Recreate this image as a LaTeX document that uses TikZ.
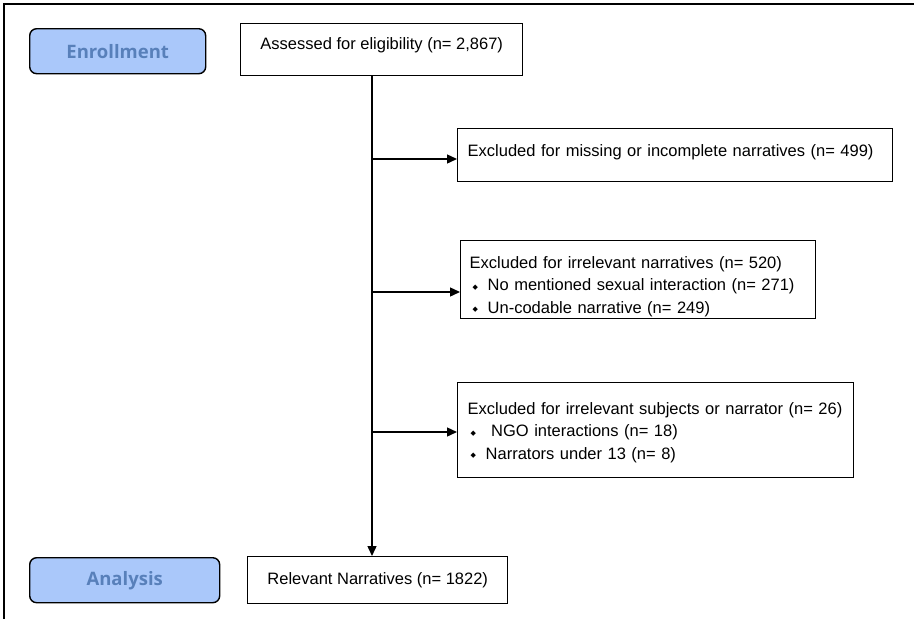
\documentclass[tikz,border=0pt]{standalone}
\usepackage{fontspec}
\setmainfont{Liberation Sans}
\newfontfamily\headfont{Open Sans}
\newfontfamily\symfont{DejaVu Sans}
\usetikzlibrary{arrows.meta}

\definecolor{phasefill}{RGB}{170,200,250}
\definecolor{phasetext}{RGB}{88,128,186}

% small diamond bullet for the sub-items
\newcommand{\dmd}{{\symfont\fontsize{7pt}{7pt}\selectfont ◆}}
\newcommand{\itm}{\makebox[18pt][l]{\hspace{3pt}\raisebox{1.5pt}{\dmd}}}

\begin{document}
\begin{tikzpicture}[x=1pt,y=-1pt,
    phase/.style={draw, line width=1.4pt, rounded corners=7pt, fill=phasefill,
        text=phasetext, font=\headfont\bfseries\fontsize{18.5}{22}\selectfont,
        anchor=north west, inner sep=0pt},
    flowbox/.style={draw, line width=1.4pt, anchor=north west, inner sep=0pt,
        font=\fontsize{16.5}{22.5}\selectfont},
    link/.style={line width=1.4pt, -{Triangle[length=10pt,width=9pt]}}]

    \useasboundingbox (0,0) rectangle (914,619);
    % page frame
    \draw[line width=1.5pt] (4,619) -- (4,4) -- (914,4);

    % Phase labels on the left
    \node[phase, minimum width=176pt, minimum height=45pt] (enroll) at (29,28) {Enrollment};
    \node[phase, minimum width=190pt, minimum height=45pt] (analysis) at (29,557) {Analysis};

    % Flow boxes
    \node[flowbox, minimum width=282pt, minimum height=52pt, text depth=12pt] (assess) at (240,23)
        {Assessed for eligibility (n= 2,867)};
    \node[flowbox, minimum width=435pt, minimum height=53pt, text width=415pt, align=left,
        text depth=9pt] (excl1) at (457,128)
        {Excluded for missing or incomplete narratives (n= 499)};
    \node[flowbox, minimum width=355pt, minimum height=78pt, text width=337pt, align=left] (excl2) at (460,240)
        {\rule{0pt}{26pt}Excluded for irrelevant narratives (n= 520)\\
         \itm No mentioned sexual interaction (n= 271)\\
         \itm Un-codable narrative (n= 249)};
    \node[flowbox, minimum width=396pt, minimum height=95pt, text width=376pt, align=left] (excl3) at (457,382)
        {\rule{0pt}{17pt}Excluded for irrelevant subjects or narrator (n= 26)\\
         \itm\ NGO interactions (n= 18)\\
         \itm Narrators under 13 (n= 8)};
    \node[flowbox, minimum width=260pt, minimum height=47pt] (relev) at (247,556)
        {Relevant Narratives (n= 1822)};

    % Trunk and branch points
    \coordinate (trunk) at (372,0);
    \coordinate (b1) at (372,159);
    \coordinate (b2) at (372,292);
    \coordinate (b3) at (372,432);

    \draw[link] (assess.south -| trunk) -- (relev.north -| trunk);
    \draw[link] (b1) -- (b1 -| excl1.west);
    \draw[link] (b2) -- (b2 -| excl2.west);
    \draw[link] (b3) -- (b3 -| excl3.west);

\end{tikzpicture}
\end{document}
